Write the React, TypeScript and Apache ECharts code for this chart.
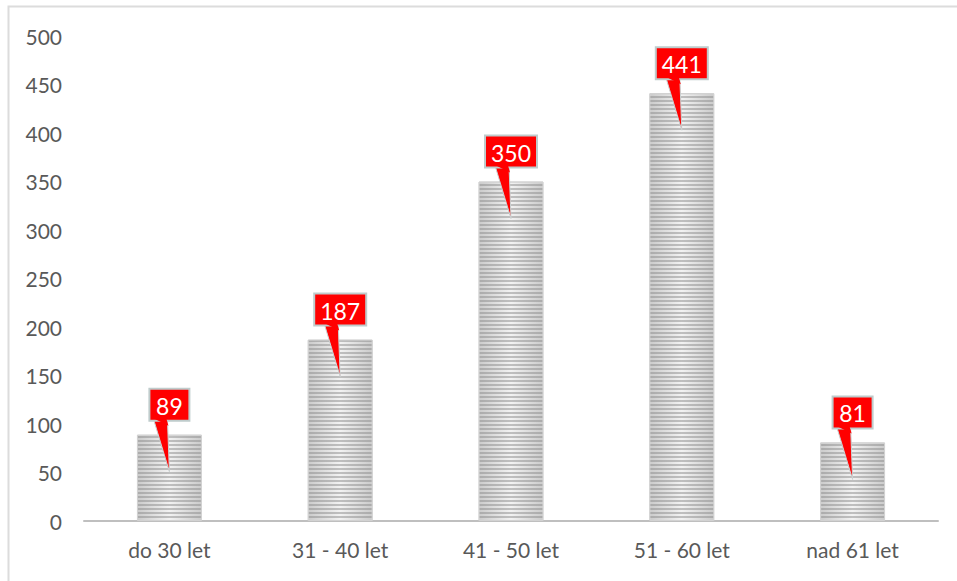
import React, { useEffect, useRef } from "react";
import * as echarts from "echarts";

const categories = ["do 30 let", "31 - 40 let", "41 - 50 let", "51 - 60 let", "nad 61 let"];
const values = [89, 187, 350, 441, 81];
const yTicks = { min: 0, max: 500, interval: 50 };

export default function App() {
  const ref = useRef<HTMLDivElement>(null);
  useEffect(() => {
    if (!ref.current) return;
    const chart = echarts.init(ref.current, null, { renderer: "svg" });
    const font = "Lato, 'Open Sans', sans-serif";
    chart.setOption({
      animation: false,
      backgroundColor: "#ffffff",
      graphic: [
        {
          type: "rect",
          shape: { x: 8.5, y: 6.5, width: 1000, height: 700 },
          style: { fill: "none", stroke: "#dcdcdc", lineWidth: 2 },
          silent: true,
          z: -10,
        },
      ],
      grid: { left: 84, right: 19, top: 36, bottom: 60 },
      xAxis: {
        type: "category",
        data: categories,
        axisLine: { lineStyle: { color: "#bfbfbf", width: 2 } },
        axisTick: { show: false },
        axisLabel: { color: "#595959", fontSize: 21, fontFamily: font, margin: 18 },
      },
      yAxis: {
        type: "value",
        min: yTicks.min,
        max: yTicks.max,
        interval: yTicks.interval,
        axisLine: { show: false },
        axisTick: { show: false },
        splitLine: { show: false },
        axisLabel: { color: "#595959", fontSize: 21, fontFamily: font, margin: 22 },
      },
      series: [
        {
          type: "bar",
          data: values,
          barWidth: "38%",
          itemStyle: {
            color: {
              type: "linear",
              x: 0,
              y: 0,
              x2: 1,
              y2: 0,
              colorStops: [
                { offset: 0, color: "#cbcbcb" },
                { offset: 0.5, color: "#f2f2f2" },
                { offset: 1, color: "#cbcbcb" },
              ],
            },
            borderColor: "#d2d2d2",
            borderWidth: 1,
            decal: {
              symbol: "rect",
              symbolSize: 1,
              color: "rgba(140,140,140,0.5)",
              dashArrayX: [1, 0],
              dashArrayY: [2, 1.5],
              rotation: 0,
            },
          },
          z: 2,
        },
        {
          type: "custom",
          data: values.map((v, i) => [i, v]),
          z: 10,
          renderItem: (params: any, api: any) => {
            const pt = api.coord([api.value(0), api.value(1)]);
            const cx = pt[0];
            const top = pt[1];
            const txt = String(api.value(1));
            const w = 16 + 12 * txt.length;
            const h = 32;
            const boxBottom = top - 14;
            const boxTop = boxBottom - h;
            return {
              type: "group",
              children: [
                {
                  type: "polygon",
                  shape: {
                    points: [
                      [cx - 16, boxBottom - 2],
                      [cx - 2, boxBottom - 2],
                      [cx, top + 37],
                    ],
                  },
                  style: { fill: "#ff0000", stroke: "#c9d3d3", lineWidth: 1 },
                },
                {
                  type: "rect",
                  shape: { x: cx - w / 2, y: boxTop, width: w, height: h },
                  style: { fill: "#ff0000", stroke: "#bfcccc", lineWidth: 2 },
                },
                {
                  type: "polygon",
                  shape: {
                    points: [
                      [cx - 15, boxBottom - 2],
                      [cx - 3, boxBottom - 2],
                      [cx - 1, boxBottom + 5],
                    ],
                  },
                  style: { fill: "#ff0000" },
                },
                {
                  type: "text",
                  style: {
                    text: txt,
                    x: cx,
                    y: boxTop + h / 2 + 1,
                    align: "center",
                    verticalAlign: "middle",
                    fill: "#ffffff",
                    fontSize: 23,
                    fontFamily: font,
                  },
                },
              ],
            };
          },
        },
      ],
    });
    return () => chart.dispose();
  }, []);
  return (
    <div
      ref={ref}
      style={{ position: "fixed", left: 0, top: 0, width: 957, height: 581 }}
    />
  );
}
